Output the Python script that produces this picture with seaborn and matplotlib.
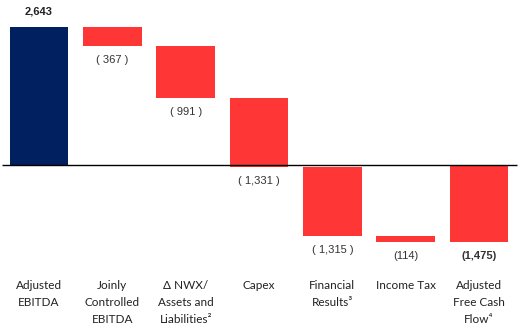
import matplotlib
matplotlib.use("Agg")
import matplotlib.pyplot as plt
import matplotlib.transforms as mtransforms
import seaborn as sns
import pandas as pd

# Cash-flow bridge: adjusted EBITDA down to adjusted free cash flow
categories = [
    "Adjusted\nEBITDA",
    "Joinly\nControlled\nEBITDA",
    "\u0394 NWX/\nAssets and\nLiabilities\u00b2",
    "Capex",
    "Financial\nResults\u00b3",
    "Income Tax",
    "Adjusted\nFree Cash\nFlow\u2074",
]
steps = [2643, -367, -991, -1331, -1315, -114, -1475]
value_labels = ["2,643", "( 367 )", "( 991 )", "( 1,331 )", "( 1,315 )", "(114)", "(1,475)"]
bold_labels = [True, False, False, False, False, False, True]

NAVY = "#00205F"
RED = "#FF3636"

# floating bar geometry: first and last bars start at zero, the rest hang from the running total
bottoms, heights, colors = [], [], []
running = 0
for i, v in enumerate(steps):
    if i == 0:
        bottoms.append(0); heights.append(v); colors.append(NAVY)
        running = v
    elif i == len(steps) - 1:
        bottoms.append(0); heights.append(v); colors.append(RED)
    else:
        bottoms.append(running); heights.append(v); colors.append(RED)
        running += v

df = pd.DataFrame({"cat": categories, "height": heights})

sns.set_theme(style="white")
plt.rcParams["font.family"] = ["Liberation Sans", "DejaVu Sans"]

fig = plt.figure(figsize=(5.26, 3.29), dpi=100)
ax = fig.add_axes([0, 0, 1, 1])

sns.barplot(data=df, x="cat", y="height", color=RED, errorbar=None,
            width=0.8, bottom=bottoms, saturation=1, ax=ax)
for patch, c in zip(ax.patches, colors):
    patch.set_facecolor(c)
    patch.set_edgecolor("none")

ax.set_xlim(-0.532, 6.641)
ax.set_ylim(-3142, 3161)
ax.axis("off")

# zero line
ax.hlines(0, -0.505, 6.52, color="black", lw=1.0)

for i, (b, h, lab, bold) in enumerate(zip(bottoms, heights, value_labels, bold_labels)):
    if h >= 0:
        ax.annotate(lab, (i, b + h), xytext=(0, 11), textcoords="offset points",
                    ha="center", va="center", fontsize=8,
                    fontweight="bold" if bold else "normal", color="#222222")
    else:
        ax.annotate(lab, (i, b + h), xytext=(0, -10), textcoords="offset points",
                    ha="center", va="center", fontsize=8,
                    fontweight="bold" if bold else "normal", color="#333333")

# category names under the chart
label_tf = mtransforms.blended_transform_factory(ax.transData, fig.transFigure)
for i, cat in enumerate(categories):
    ax.text(i, 1 - 280 / 329, cat, transform=label_tf,
            ha="center", va="top", fontsize=8.5, linespacing=1.68,
            family=["Lato", "DejaVu Sans"], color="#222222")

fig.savefig("out.png", dpi=100)
